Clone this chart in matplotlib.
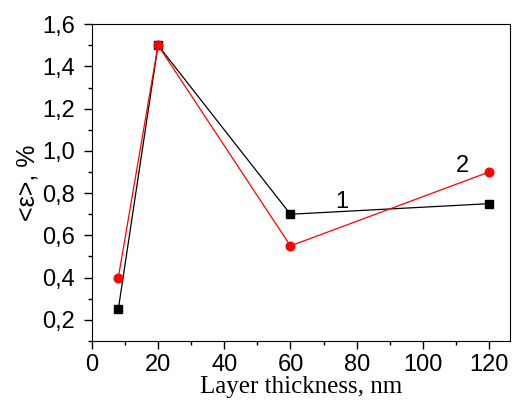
import numpy as np
import matplotlib.pyplot as plt
from matplotlib.ticker import MultipleLocator, FuncFormatter

# layer thickness (nm) and mean strain (%)
thickness = [8, 20, 60, 120]
strain_1 = [0.25, 1.5, 0.7, 0.75]
strain_2 = [0.4, 1.5, 0.55, 0.9]

fig = plt.figure(figsize=(5.13, 4.03), dpi=100)
ax = fig.add_axes([0.179, 0.154, 0.815, 0.786])

ax.plot(thickness, strain_1, color='black', lw=0.9, marker='s', ms=5.6, zorder=3)
ax.plot(thickness, strain_2, color='red', lw=0.9, marker='o', ms=6.2, zorder=3)

ax.text(75.5, 0.757, '1', fontsize=17, family='Liberation Sans', ha='center', va='center')
ax.text(112, 0.93, '2', fontsize=17, family='Liberation Sans', ha='center', va='center')

ax.set_xlim(0, 126.3)
ax.set_ylim(0.1, 1.6)
ax.xaxis.set_major_locator(MultipleLocator(20))
ax.xaxis.set_minor_locator(MultipleLocator(10))
ax.yaxis.set_major_locator(MultipleLocator(0.2))
ax.yaxis.set_minor_locator(MultipleLocator(0.1))
ax.yaxis.set_major_formatter(FuncFormatter(lambda v, p: f'{v:.1f}'.replace('.', ',')))

ax.tick_params(which='major', direction='out', length=6, width=1, labelsize=17)
ax.tick_params(axis='y', which='major', pad=6)
ax.tick_params(which='minor', direction='out', length=3, width=1)
for lab in ax.get_xticklabels() + ax.get_yticklabels():
    lab.set_family('Liberation Sans')

ax.set_xlabel('Layer thickness, nm', family='Liberation Serif', fontsize=18, labelpad=0)
ax.set_ylabel('<ε>, %', family='Liberation Sans', fontsize=18, labelpad=2)

plt.savefig('out.png', dpi=100)
